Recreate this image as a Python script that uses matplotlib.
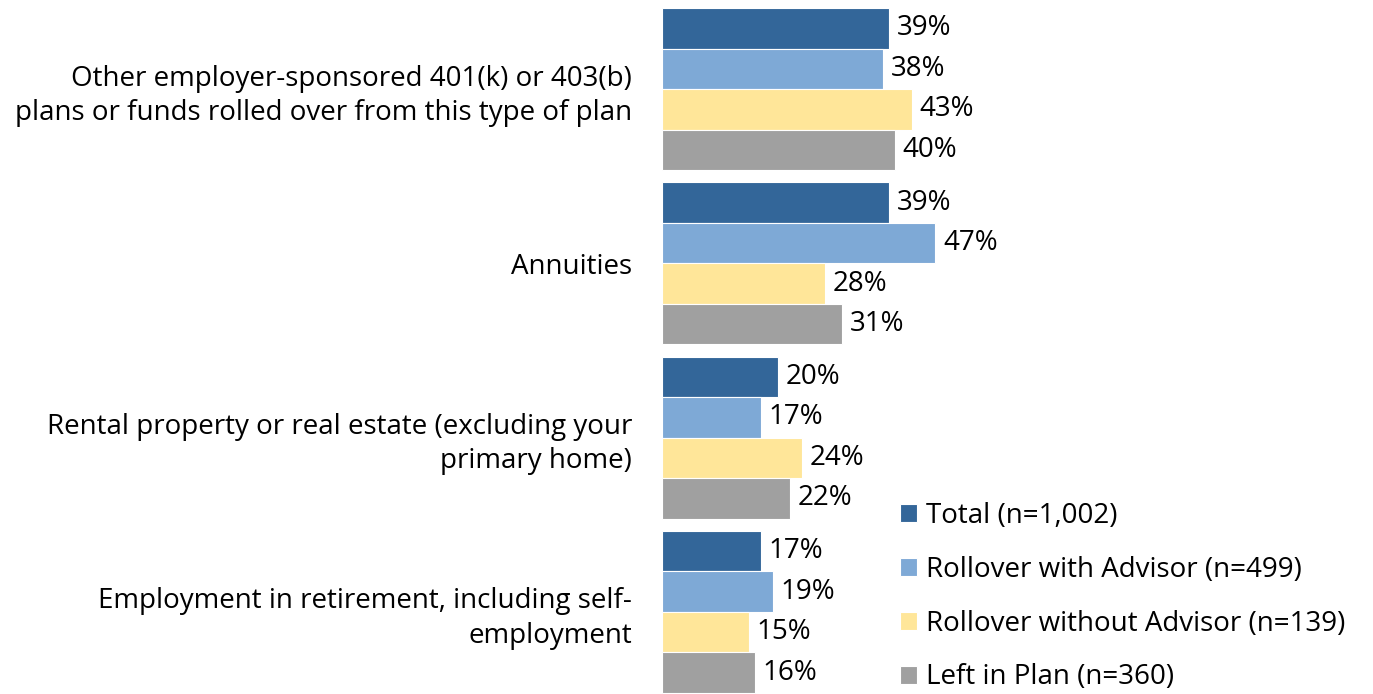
import numpy as np
import matplotlib.pyplot as plt

categories = [
    "Other employer-sponsored 401(k) or 403(b)\nplans or funds rolled over from this type of plan",
    "Annuities",
    "Rental property or real estate (excluding your\nprimary home)",
    "Employment in retirement, including self-\nemployment",
]
series_names = [
    "Total (n=1,002)",
    "Rollover with Advisor (n=499)",
    "Rollover without Advisor (n=139)",
    "Left in Plan (n=360)",
]
total = [39, 39, 20, 17]
with_advisor = [38, 47, 17, 19]
without_advisor = [43, 28, 24, 15]
left_in_plan = [40, 31, 22, 16]
colors = ["#336699", "#7EA9D6", "#FFE699", "#A0A0A0"]

plt.rcParams['font.family'] = ['Open Sans', 'DejaVu Sans']
fs = 20

fig = plt.figure(figsize=(13.73, 6.94), dpi=100)
ax = fig.add_axes([662 / 1373, 0, 698 / 1373, 1])

values = [total, with_advisor, without_advisor, left_in_plan]
y = np.arange(len(categories))
h = 0.2324
for i, (vals, name, c) in enumerate(zip(values, series_names, colors)):
    pos = y - 1.5 * h + i * h
    bars = ax.barh(pos, vals, height=h, color=c, edgecolor='white', linewidth=0.8, label=name)
    for b, v in zip(bars, vals):
        ax.text(b.get_width() + 1.3, b.get_y() + b.get_height() / 2, f"{v}%",
                va='center', ha='left', fontsize=fs, color='black')

ax.set_xlim(0, 120)
ax.set_ylim(3.471, -0.511)
ax.set_yticks(y)
ax.set_yticklabels(categories, fontsize=fs, linespacing=1.3, ha='right')
ax.tick_params(axis='y', length=0, pad=21.5)
ax.set_xticks([])
for s in ax.spines.values():
    s.set_visible(False)

ax.legend(loc='upper left', bbox_to_anchor=(900 / 1373, 1 - 502 / 694),
          bbox_transform=fig.transFigure, frameon=False, fontsize=fs,
          handlelength=0.6, handleheight=0.6, handletextpad=0.35,
          labelspacing=0.93, borderaxespad=0, borderpad=0)

fig.savefig("out.png", dpi=100)
